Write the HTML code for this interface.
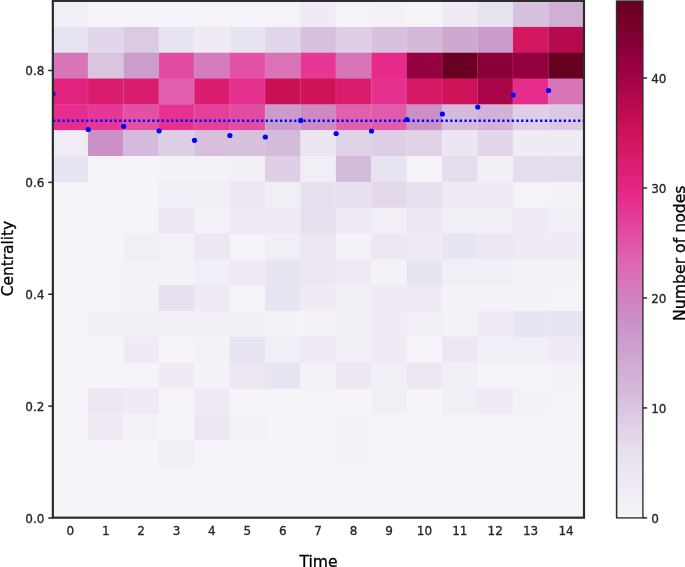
<!DOCTYPE html>
<html><head><meta charset="utf-8"><title>Centrality over time</title><style>html,body{margin:0;padding:0;background:#fff}svg{display:block}</style></head><body>
<svg width="685" height="567" viewBox="0 0 685 567" font-family="'DejaVu Sans', 'Liberation Sans', sans-serif">
<rect width="685" height="567" fill="#fff"/>
<defs><linearGradient id="cb" x1="0" y1="1" x2="0" y2="0"><stop offset="0.0000" stop-color="#f7f4f9"/><stop offset="0.0156" stop-color="#f5f2f8"/><stop offset="0.0312" stop-color="#f3eff6"/><stop offset="0.0469" stop-color="#f1edf5"/><stop offset="0.0625" stop-color="#efeaf4"/><stop offset="0.0781" stop-color="#ede8f3"/><stop offset="0.0938" stop-color="#ebe6f1"/><stop offset="0.1094" stop-color="#e9e3f0"/><stop offset="0.1250" stop-color="#e7e1ef"/><stop offset="0.1406" stop-color="#e5dcec"/><stop offset="0.1562" stop-color="#e2d7ea"/><stop offset="0.1719" stop-color="#e0d2e7"/><stop offset="0.1875" stop-color="#ddcde4"/><stop offset="0.2031" stop-color="#dbc8e2"/><stop offset="0.2188" stop-color="#d9c3df"/><stop offset="0.2344" stop-color="#d6bedc"/><stop offset="0.2500" stop-color="#d4b9da"/><stop offset="0.2656" stop-color="#d3b4d7"/><stop offset="0.2812" stop-color="#d1afd5"/><stop offset="0.2969" stop-color="#d0abd3"/><stop offset="0.3125" stop-color="#cea6d0"/><stop offset="0.3281" stop-color="#cda1ce"/><stop offset="0.3438" stop-color="#cc9dcc"/><stop offset="0.3594" stop-color="#ca98c9"/><stop offset="0.3750" stop-color="#c993c7"/><stop offset="0.3906" stop-color="#cc8ec4"/><stop offset="0.4062" stop-color="#cf88c1"/><stop offset="0.4219" stop-color="#d282be"/><stop offset="0.4375" stop-color="#d47cbb"/><stop offset="0.4531" stop-color="#d776b8"/><stop offset="0.4688" stop-color="#da70b5"/><stop offset="0.4844" stop-color="#dd6ab3"/><stop offset="0.5000" stop-color="#df64af"/><stop offset="0.5156" stop-color="#e05dab"/><stop offset="0.5312" stop-color="#e155a6"/><stop offset="0.5469" stop-color="#e24da1"/><stop offset="0.5625" stop-color="#e3469c"/><stop offset="0.5781" stop-color="#e43e98"/><stop offset="0.5938" stop-color="#e53793"/><stop offset="0.6094" stop-color="#e62f8e"/><stop offset="0.6250" stop-color="#e72989"/><stop offset="0.6406" stop-color="#e32682"/><stop offset="0.6562" stop-color="#e0237c"/><stop offset="0.6719" stop-color="#dd2075"/><stop offset="0.6875" stop-color="#da1d6f"/><stop offset="0.7031" stop-color="#d71a68"/><stop offset="0.7188" stop-color="#d41762"/><stop offset="0.7344" stop-color="#d1145b"/><stop offset="0.7500" stop-color="#cd1256"/><stop offset="0.7656" stop-color="#c60f53"/><stop offset="0.7812" stop-color="#bf0d51"/><stop offset="0.7969" stop-color="#b80b4e"/><stop offset="0.8125" stop-color="#b2094c"/><stop offset="0.8281" stop-color="#ab064a"/><stop offset="0.8438" stop-color="#a40447"/><stop offset="0.8594" stop-color="#9d0245"/><stop offset="0.8750" stop-color="#970042"/><stop offset="0.8906" stop-color="#91003d"/><stop offset="0.9062" stop-color="#8a0039"/><stop offset="0.9219" stop-color="#840034"/><stop offset="0.9375" stop-color="#7e0030"/><stop offset="0.9531" stop-color="#78002b"/><stop offset="0.9688" stop-color="#720027"/><stop offset="0.9844" stop-color="#6c0022"/><stop offset="1.0000" stop-color="#67001f"/></linearGradient><clipPath id="ax"><rect x="52.55" y="1.10" width="531.15" height="516.40"/></clipPath></defs>
<g>
<rect x="52.55" y="1.10" width="531.15" height="516.40" fill="#f7f4f9"/>
<rect x="52.55" y="1.10" width="35.81" height="26.22" fill="#f2eef6"/>
<rect x="87.96" y="1.10" width="35.81" height="26.22" fill="#f6f3f9"/>
<rect x="123.37" y="1.10" width="35.81" height="26.22" fill="#f6f3f9"/>
<rect x="158.78" y="1.10" width="35.81" height="26.22" fill="#f6f3f9"/>
<rect x="194.19" y="1.10" width="35.81" height="26.22" fill="#f5f2f8"/>
<rect x="229.60" y="1.10" width="35.81" height="26.22" fill="#f6f3f8"/>
<rect x="265.01" y="1.10" width="35.81" height="26.22" fill="#f6f3f8"/>
<rect x="300.42" y="1.10" width="35.81" height="26.22" fill="#efeaf4"/>
<rect x="335.83" y="1.10" width="35.81" height="26.22" fill="#f6f3f8"/>
<rect x="371.24" y="1.10" width="35.81" height="26.22" fill="#f4f1f7"/>
<rect x="406.65" y="1.10" width="35.81" height="26.22" fill="#f6f3f9"/>
<rect x="442.06" y="1.10" width="35.81" height="26.22" fill="#efeaf4"/>
<rect x="477.47" y="1.10" width="35.81" height="26.22" fill="#e8e3f0"/>
<rect x="512.88" y="1.10" width="35.81" height="26.22" fill="#d8c1de"/>
<rect x="548.29" y="1.10" width="35.81" height="26.22" fill="#d1aed4"/>
<rect x="52.55" y="26.92" width="35.81" height="26.22" fill="#e8e3f0"/>
<rect x="87.96" y="26.92" width="35.81" height="26.22" fill="#e2d7ea"/>
<rect x="123.37" y="26.92" width="35.81" height="26.22" fill="#dcc9e2"/>
<rect x="158.78" y="26.92" width="35.81" height="26.22" fill="#e8e3f0"/>
<rect x="194.19" y="26.92" width="35.81" height="26.22" fill="#efeaf4"/>
<rect x="229.60" y="26.92" width="35.81" height="26.22" fill="#e9e4f1"/>
<rect x="265.01" y="26.92" width="35.81" height="26.22" fill="#e2d7ea"/>
<rect x="300.42" y="26.92" width="35.81" height="26.22" fill="#d7bfdd"/>
<rect x="335.83" y="26.92" width="35.81" height="26.22" fill="#dfcfe6"/>
<rect x="371.24" y="26.92" width="35.81" height="26.22" fill="#d8c1de"/>
<rect x="406.65" y="26.92" width="35.81" height="26.22" fill="#d4b8d9"/>
<rect x="442.06" y="26.92" width="35.81" height="26.22" fill="#cfa8d2"/>
<rect x="477.47" y="26.92" width="35.81" height="26.22" fill="#cb9ccb"/>
<rect x="512.88" y="26.92" width="35.81" height="26.22" fill="#d31760"/>
<rect x="548.29" y="26.92" width="35.81" height="26.22" fill="#b50a4d"/>
<rect x="52.55" y="52.74" width="35.81" height="26.22" fill="#d874b8"/>
<rect x="87.96" y="52.74" width="35.81" height="26.22" fill="#dac5e0"/>
<rect x="123.37" y="52.74" width="35.81" height="26.22" fill="#cc9ecc"/>
<rect x="158.78" y="52.74" width="35.81" height="26.22" fill="#e24ca0"/>
<rect x="194.19" y="52.74" width="35.81" height="26.22" fill="#d47dbc"/>
<rect x="229.60" y="52.74" width="35.81" height="26.22" fill="#e251a3"/>
<rect x="265.01" y="52.74" width="35.81" height="26.22" fill="#d972b6"/>
<rect x="300.42" y="52.74" width="35.81" height="26.22" fill="#e53793"/>
<rect x="335.83" y="52.74" width="35.81" height="26.22" fill="#d874b8"/>
<rect x="371.24" y="52.74" width="35.81" height="26.22" fill="#e72989"/>
<rect x="406.65" y="52.74" width="35.81" height="26.22" fill="#940040"/>
<rect x="442.06" y="52.74" width="35.81" height="26.22" fill="#6a0021"/>
<rect x="477.47" y="52.74" width="35.81" height="26.22" fill="#8c003a"/>
<rect x="512.88" y="52.74" width="35.81" height="26.22" fill="#92003f"/>
<rect x="548.29" y="52.74" width="35.81" height="26.22" fill="#67001f"/>
<rect x="52.55" y="78.56" width="35.81" height="26.22" fill="#e0237c"/>
<rect x="87.96" y="78.56" width="35.81" height="26.22" fill="#d91c6d"/>
<rect x="123.37" y="78.56" width="35.81" height="26.22" fill="#d91c6d"/>
<rect x="158.78" y="78.56" width="35.81" height="26.22" fill="#e060ad"/>
<rect x="194.19" y="78.56" width="35.81" height="26.22" fill="#d91c6d"/>
<rect x="229.60" y="78.56" width="35.81" height="26.22" fill="#e6318f"/>
<rect x="265.01" y="78.56" width="35.81" height="26.22" fill="#cb1155"/>
<rect x="300.42" y="78.56" width="35.81" height="26.22" fill="#cf1358"/>
<rect x="335.83" y="78.56" width="35.81" height="26.22" fill="#d81b6a"/>
<rect x="371.24" y="78.56" width="35.81" height="26.22" fill="#e6318f"/>
<rect x="406.65" y="78.56" width="35.81" height="26.22" fill="#d51965"/>
<rect x="442.06" y="78.56" width="35.81" height="26.22" fill="#cf1358"/>
<rect x="477.47" y="78.56" width="35.81" height="26.22" fill="#ab064a"/>
<rect x="512.88" y="78.56" width="35.81" height="26.22" fill="#e62d8d"/>
<rect x="548.29" y="78.56" width="35.81" height="26.22" fill="#d874b8"/>
<rect x="52.55" y="104.38" width="35.81" height="26.22" fill="#e62d8d"/>
<rect x="87.96" y="104.38" width="35.81" height="26.22" fill="#e53793"/>
<rect x="123.37" y="104.38" width="35.81" height="26.22" fill="#e251a3"/>
<rect x="158.78" y="104.38" width="35.81" height="26.22" fill="#e6318f"/>
<rect x="194.19" y="104.38" width="35.81" height="26.22" fill="#e44099"/>
<rect x="229.60" y="104.38" width="35.81" height="26.22" fill="#e24ca0"/>
<rect x="265.01" y="104.38" width="35.81" height="26.22" fill="#cb9ccb"/>
<rect x="300.42" y="104.38" width="35.81" height="26.22" fill="#ce89c2"/>
<rect x="335.83" y="104.38" width="35.81" height="26.22" fill="#e060ad"/>
<rect x="371.24" y="104.38" width="35.81" height="26.22" fill="#e05ba9"/>
<rect x="406.65" y="104.38" width="35.81" height="26.22" fill="#cb90c5"/>
<rect x="442.06" y="104.38" width="35.81" height="26.22" fill="#d5bbdb"/>
<rect x="477.47" y="104.38" width="35.81" height="26.22" fill="#d2b2d6"/>
<rect x="512.88" y="104.38" width="35.81" height="26.22" fill="#dfcfe6"/>
<rect x="548.29" y="104.38" width="35.81" height="26.22" fill="#dbc8e2"/>
<rect x="52.55" y="130.20" width="35.81" height="26.22" fill="#f0ecf5"/>
<rect x="87.96" y="130.20" width="35.81" height="26.22" fill="#cb90c5"/>
<rect x="123.37" y="130.20" width="35.81" height="26.22" fill="#d5bbdb"/>
<rect x="158.78" y="130.20" width="35.81" height="26.22" fill="#dfcfe6"/>
<rect x="194.19" y="130.20" width="35.81" height="26.22" fill="#d7bfdd"/>
<rect x="229.60" y="130.20" width="35.81" height="26.22" fill="#d8c1de"/>
<rect x="265.01" y="130.20" width="35.81" height="26.22" fill="#d5bbdb"/>
<rect x="300.42" y="130.20" width="35.81" height="26.22" fill="#ebe6f1"/>
<rect x="335.83" y="130.20" width="35.81" height="26.22" fill="#e0d3e8"/>
<rect x="371.24" y="130.20" width="35.81" height="26.22" fill="#dfcfe6"/>
<rect x="406.65" y="130.20" width="35.81" height="26.22" fill="#e0d3e8"/>
<rect x="442.06" y="130.20" width="35.81" height="26.22" fill="#ebe6f1"/>
<rect x="477.47" y="130.20" width="35.81" height="26.22" fill="#e2d7ea"/>
<rect x="512.88" y="130.20" width="35.81" height="26.22" fill="#efeaf4"/>
<rect x="548.29" y="130.20" width="35.81" height="26.22" fill="#efeaf4"/>
<rect x="52.55" y="156.02" width="35.81" height="26.22" fill="#e9e4f1"/>
<rect x="87.96" y="156.02" width="35.81" height="26.22" fill="#f6f3f8"/>
<rect x="123.37" y="156.02" width="35.81" height="26.22" fill="#f6f3f8"/>
<rect x="158.78" y="156.02" width="35.81" height="26.22" fill="#f4f1f7"/>
<rect x="194.19" y="156.02" width="35.81" height="26.22" fill="#f4f1f7"/>
<rect x="229.60" y="156.02" width="35.81" height="26.22" fill="#f3eff6"/>
<rect x="265.01" y="156.02" width="35.81" height="26.22" fill="#dfcfe6"/>
<rect x="300.42" y="156.02" width="35.81" height="26.22" fill="#f2eef6"/>
<rect x="335.83" y="156.02" width="35.81" height="26.22" fill="#d5bbdb"/>
<rect x="371.24" y="156.02" width="35.81" height="26.22" fill="#e9e4f1"/>
<rect x="406.65" y="156.02" width="35.81" height="26.22" fill="#f6f3f8"/>
<rect x="442.06" y="156.02" width="35.81" height="26.22" fill="#e5dded"/>
<rect x="477.47" y="156.02" width="35.81" height="26.22" fill="#f3eff6"/>
<rect x="512.88" y="156.02" width="35.81" height="26.22" fill="#e5dded"/>
<rect x="548.29" y="156.02" width="35.81" height="26.22" fill="#e5dded"/>
<rect x="158.78" y="181.84" width="35.81" height="26.22" fill="#f2eef6"/>
<rect x="194.19" y="181.84" width="35.81" height="26.22" fill="#f2eef6"/>
<rect x="229.60" y="181.84" width="35.81" height="26.22" fill="#ece7f2"/>
<rect x="265.01" y="181.84" width="35.81" height="26.22" fill="#f2eef6"/>
<rect x="300.42" y="181.84" width="35.81" height="26.22" fill="#e7e1ef"/>
<rect x="335.83" y="181.84" width="35.81" height="26.22" fill="#e7e1ef"/>
<rect x="371.24" y="181.84" width="35.81" height="26.22" fill="#e3d9eb"/>
<rect x="406.65" y="181.84" width="35.81" height="26.22" fill="#e7e1ef"/>
<rect x="442.06" y="181.84" width="35.81" height="26.22" fill="#efeaf4"/>
<rect x="477.47" y="181.84" width="35.81" height="26.22" fill="#efeaf4"/>
<rect x="548.29" y="181.84" width="35.81" height="26.22" fill="#f4f1f7"/>
<rect x="158.78" y="207.66" width="35.81" height="26.22" fill="#ece7f2"/>
<rect x="194.19" y="207.66" width="35.81" height="26.22" fill="#f4f1f7"/>
<rect x="229.60" y="207.66" width="35.81" height="26.22" fill="#efeaf4"/>
<rect x="265.01" y="207.66" width="35.81" height="26.22" fill="#efeaf4"/>
<rect x="300.42" y="207.66" width="35.81" height="26.22" fill="#e7e1ef"/>
<rect x="335.83" y="207.66" width="35.81" height="26.22" fill="#efeaf4"/>
<rect x="371.24" y="207.66" width="35.81" height="26.22" fill="#f2eef6"/>
<rect x="406.65" y="207.66" width="35.81" height="26.22" fill="#ece7f2"/>
<rect x="442.06" y="207.66" width="35.81" height="26.22" fill="#f2eef6"/>
<rect x="477.47" y="207.66" width="35.81" height="26.22" fill="#f2eef6"/>
<rect x="512.88" y="207.66" width="35.81" height="26.22" fill="#efeaf4"/>
<rect x="548.29" y="207.66" width="35.81" height="26.22" fill="#f2eef6"/>
<rect x="123.37" y="233.48" width="35.81" height="26.22" fill="#f2eef6"/>
<rect x="158.78" y="233.48" width="35.81" height="26.22" fill="#f4f1f7"/>
<rect x="194.19" y="233.48" width="35.81" height="26.22" fill="#ece7f2"/>
<rect x="265.01" y="233.48" width="35.81" height="26.22" fill="#f2eef6"/>
<rect x="300.42" y="233.48" width="35.81" height="26.22" fill="#ece7f2"/>
<rect x="335.83" y="233.48" width="35.81" height="26.22" fill="#f4f1f7"/>
<rect x="371.24" y="233.48" width="35.81" height="26.22" fill="#ece7f2"/>
<rect x="406.65" y="233.48" width="35.81" height="26.22" fill="#efeaf4"/>
<rect x="442.06" y="233.48" width="35.81" height="26.22" fill="#e9e4f1"/>
<rect x="477.47" y="233.48" width="35.81" height="26.22" fill="#ece7f2"/>
<rect x="512.88" y="233.48" width="35.81" height="26.22" fill="#efeaf4"/>
<rect x="548.29" y="233.48" width="35.81" height="26.22" fill="#efeaf4"/>
<rect x="123.37" y="259.30" width="35.81" height="26.22" fill="#f4f1f7"/>
<rect x="158.78" y="259.30" width="35.81" height="26.22" fill="#f4f1f7"/>
<rect x="194.19" y="259.30" width="35.81" height="26.22" fill="#f2eef6"/>
<rect x="229.60" y="259.30" width="35.81" height="26.22" fill="#efeaf4"/>
<rect x="265.01" y="259.30" width="35.81" height="26.22" fill="#e9e4f1"/>
<rect x="300.42" y="259.30" width="35.81" height="26.22" fill="#ece7f2"/>
<rect x="335.83" y="259.30" width="35.81" height="26.22" fill="#efeaf4"/>
<rect x="371.24" y="259.30" width="35.81" height="26.22" fill="#f4f1f7"/>
<rect x="406.65" y="259.30" width="35.81" height="26.22" fill="#e9e4f1"/>
<rect x="442.06" y="259.30" width="35.81" height="26.22" fill="#f2eef6"/>
<rect x="477.47" y="259.30" width="35.81" height="26.22" fill="#f2eef6"/>
<rect x="512.88" y="259.30" width="35.81" height="26.22" fill="#f4f1f7"/>
<rect x="548.29" y="259.30" width="35.81" height="26.22" fill="#f4f1f7"/>
<rect x="123.37" y="285.12" width="35.81" height="26.22" fill="#f4f1f7"/>
<rect x="158.78" y="285.12" width="35.81" height="26.22" fill="#e7e1ef"/>
<rect x="194.19" y="285.12" width="35.81" height="26.22" fill="#efeaf4"/>
<rect x="265.01" y="285.12" width="35.81" height="26.22" fill="#e9e4f1"/>
<rect x="300.42" y="285.12" width="35.81" height="26.22" fill="#efeaf4"/>
<rect x="335.83" y="285.12" width="35.81" height="26.22" fill="#f2eef6"/>
<rect x="371.24" y="285.12" width="35.81" height="26.22" fill="#efeaf4"/>
<rect x="406.65" y="285.12" width="35.81" height="26.22" fill="#efeaf4"/>
<rect x="442.06" y="285.12" width="35.81" height="26.22" fill="#f4f1f7"/>
<rect x="477.47" y="285.12" width="35.81" height="26.22" fill="#f4f1f7"/>
<rect x="512.88" y="285.12" width="35.81" height="26.22" fill="#f4f1f7"/>
<rect x="87.96" y="310.94" width="35.81" height="26.22" fill="#f2eef6"/>
<rect x="123.37" y="310.94" width="35.81" height="26.22" fill="#f2eef6"/>
<rect x="158.78" y="310.94" width="35.81" height="26.22" fill="#f2eef6"/>
<rect x="194.19" y="310.94" width="35.81" height="26.22" fill="#f2eef6"/>
<rect x="229.60" y="310.94" width="35.81" height="26.22" fill="#f2eef6"/>
<rect x="265.01" y="310.94" width="35.81" height="26.22" fill="#f4f1f7"/>
<rect x="300.42" y="310.94" width="35.81" height="26.22" fill="#f4f1f7"/>
<rect x="335.83" y="310.94" width="35.81" height="26.22" fill="#f2eef6"/>
<rect x="371.24" y="310.94" width="35.81" height="26.22" fill="#efeaf4"/>
<rect x="406.65" y="310.94" width="35.81" height="26.22" fill="#f2eef6"/>
<rect x="442.06" y="310.94" width="35.81" height="26.22" fill="#f4f1f7"/>
<rect x="477.47" y="310.94" width="35.81" height="26.22" fill="#efeaf4"/>
<rect x="512.88" y="310.94" width="35.81" height="26.22" fill="#e9e4f1"/>
<rect x="548.29" y="310.94" width="35.81" height="26.22" fill="#e9e4f1"/>
<rect x="123.37" y="336.76" width="35.81" height="26.22" fill="#efeaf4"/>
<rect x="194.19" y="336.76" width="35.81" height="26.22" fill="#f4f1f7"/>
<rect x="229.60" y="336.76" width="35.81" height="26.22" fill="#e9e4f1"/>
<rect x="265.01" y="336.76" width="35.81" height="26.22" fill="#f2eef6"/>
<rect x="300.42" y="336.76" width="35.81" height="26.22" fill="#efeaf4"/>
<rect x="335.83" y="336.76" width="35.81" height="26.22" fill="#f2eef6"/>
<rect x="371.24" y="336.76" width="35.81" height="26.22" fill="#efeaf4"/>
<rect x="442.06" y="336.76" width="35.81" height="26.22" fill="#ece7f2"/>
<rect x="477.47" y="336.76" width="35.81" height="26.22" fill="#f2eef6"/>
<rect x="512.88" y="336.76" width="35.81" height="26.22" fill="#f2eef6"/>
<rect x="548.29" y="336.76" width="35.81" height="26.22" fill="#efeaf4"/>
<rect x="158.78" y="362.58" width="35.81" height="26.22" fill="#efeaf4"/>
<rect x="194.19" y="362.58" width="35.81" height="26.22" fill="#f4f1f7"/>
<rect x="229.60" y="362.58" width="35.81" height="26.22" fill="#ece7f2"/>
<rect x="265.01" y="362.58" width="35.81" height="26.22" fill="#e9e4f1"/>
<rect x="300.42" y="362.58" width="35.81" height="26.22" fill="#f4f1f7"/>
<rect x="335.83" y="362.58" width="35.81" height="26.22" fill="#ece7f2"/>
<rect x="371.24" y="362.58" width="35.81" height="26.22" fill="#f2eef6"/>
<rect x="406.65" y="362.58" width="35.81" height="26.22" fill="#ece7f2"/>
<rect x="442.06" y="362.58" width="35.81" height="26.22" fill="#f2eef6"/>
<rect x="548.29" y="362.58" width="35.81" height="26.22" fill="#f4f1f7"/>
<rect x="87.96" y="388.40" width="35.81" height="26.22" fill="#ece7f2"/>
<rect x="123.37" y="388.40" width="35.81" height="26.22" fill="#efeaf4"/>
<rect x="194.19" y="388.40" width="35.81" height="26.22" fill="#efeaf4"/>
<rect x="371.24" y="388.40" width="35.81" height="26.22" fill="#f2eef6"/>
<rect x="442.06" y="388.40" width="35.81" height="26.22" fill="#f2eef6"/>
<rect x="477.47" y="388.40" width="35.81" height="26.22" fill="#efeaf4"/>
<rect x="512.88" y="388.40" width="35.81" height="26.22" fill="#f4f1f7"/>
<rect x="87.96" y="414.22" width="35.81" height="26.22" fill="#efeaf4"/>
<rect x="123.37" y="414.22" width="35.81" height="26.22" fill="#f4f1f7"/>
<rect x="194.19" y="414.22" width="35.81" height="26.22" fill="#ece7f2"/>
<rect x="229.60" y="414.22" width="35.81" height="26.22" fill="#f4f1f7"/>
<rect x="335.83" y="414.22" width="35.81" height="26.22" fill="#f4f1f7"/>
<rect x="158.78" y="440.04" width="35.81" height="26.22" fill="#f2eef6"/>
<rect x="335.83" y="440.04" width="35.81" height="26.22" fill="#f4f1f7"/>
<line x1="87.96" y1="1.10" x2="87.96" y2="517.50" stroke="#fff" stroke-opacity="0.16" stroke-width="0.7"/>
<line x1="123.37" y1="1.10" x2="123.37" y2="517.50" stroke="#fff" stroke-opacity="0.16" stroke-width="0.7"/>
<line x1="158.78" y1="1.10" x2="158.78" y2="517.50" stroke="#fff" stroke-opacity="0.16" stroke-width="0.7"/>
<line x1="194.19" y1="1.10" x2="194.19" y2="517.50" stroke="#fff" stroke-opacity="0.16" stroke-width="0.7"/>
<line x1="229.60" y1="1.10" x2="229.60" y2="517.50" stroke="#fff" stroke-opacity="0.16" stroke-width="0.7"/>
<line x1="265.01" y1="1.10" x2="265.01" y2="517.50" stroke="#fff" stroke-opacity="0.16" stroke-width="0.7"/>
<line x1="300.42" y1="1.10" x2="300.42" y2="517.50" stroke="#fff" stroke-opacity="0.16" stroke-width="0.7"/>
<line x1="335.83" y1="1.10" x2="335.83" y2="517.50" stroke="#fff" stroke-opacity="0.16" stroke-width="0.7"/>
<line x1="371.24" y1="1.10" x2="371.24" y2="517.50" stroke="#fff" stroke-opacity="0.16" stroke-width="0.7"/>
<line x1="406.65" y1="1.10" x2="406.65" y2="517.50" stroke="#fff" stroke-opacity="0.16" stroke-width="0.7"/>
<line x1="442.06" y1="1.10" x2="442.06" y2="517.50" stroke="#fff" stroke-opacity="0.16" stroke-width="0.7"/>
<line x1="477.47" y1="1.10" x2="477.47" y2="517.50" stroke="#fff" stroke-opacity="0.16" stroke-width="0.7"/>
<line x1="512.88" y1="1.10" x2="512.88" y2="517.50" stroke="#fff" stroke-opacity="0.16" stroke-width="0.7"/>
<line x1="548.29" y1="1.10" x2="548.29" y2="517.50" stroke="#fff" stroke-opacity="0.16" stroke-width="0.7"/>
</g>
<g clip-path="url(#ax)"><line x1="52.55" y1="120.7" x2="583.70" y2="120.7" stroke="#0000ff" stroke-width="2.4" stroke-dasharray="2.3 2.43" stroke-dashoffset="-0.35"/>
<circle cx="52.85" cy="93.8" r="2.6" fill="#0000ff"/>
<circle cx="88.26" cy="129.5" r="2.6" fill="#0000ff"/>
<circle cx="123.67" cy="126.3" r="2.6" fill="#0000ff"/>
<circle cx="159.08" cy="130.8" r="2.6" fill="#0000ff"/>
<circle cx="194.49" cy="140.3" r="2.6" fill="#0000ff"/>
<circle cx="229.90" cy="135.5" r="2.6" fill="#0000ff"/>
<circle cx="265.31" cy="137.0" r="2.6" fill="#0000ff"/>
<circle cx="300.72" cy="120.4" r="2.6" fill="#0000ff"/>
<circle cx="336.13" cy="133.5" r="2.6" fill="#0000ff"/>
<circle cx="371.54" cy="131" r="2.6" fill="#0000ff"/>
<circle cx="406.95" cy="119.5" r="2.6" fill="#0000ff"/>
<circle cx="442.36" cy="114" r="2.6" fill="#0000ff"/>
<circle cx="477.77" cy="107" r="2.6" fill="#0000ff"/>
<circle cx="513.18" cy="95" r="2.6" fill="#0000ff"/>
<circle cx="548.59" cy="90.5" r="2.6" fill="#0000ff"/>
</g>
<rect x="52.85" y="0.85" width="531.15" height="516.85" fill="none" stroke="#2b2b2b" stroke-width="2.2"/>
<line x1="48.20" y1="518.00" x2="52.50" y2="518.00" stroke="#2b2b2b" stroke-width="1.5"/>
<text x="44.40" y="522.60" font-size="12" text-anchor="end" fill="#262626" stroke="#262626" stroke-width="0.3">0.0</text>
<line x1="48.20" y1="406.12" x2="52.50" y2="406.12" stroke="#2b2b2b" stroke-width="1.5"/>
<text x="44.40" y="410.72" font-size="12" text-anchor="end" fill="#262626" stroke="#262626" stroke-width="0.3">0.2</text>
<line x1="48.20" y1="294.24" x2="52.50" y2="294.24" stroke="#2b2b2b" stroke-width="1.5"/>
<text x="44.40" y="298.84" font-size="12" text-anchor="end" fill="#262626" stroke="#262626" stroke-width="0.3">0.4</text>
<line x1="48.20" y1="182.36" x2="52.50" y2="182.36" stroke="#2b2b2b" stroke-width="1.5"/>
<text x="44.40" y="186.96" font-size="12" text-anchor="end" fill="#262626" stroke="#262626" stroke-width="0.3">0.6</text>
<line x1="48.20" y1="70.48" x2="52.50" y2="70.48" stroke="#2b2b2b" stroke-width="1.5"/>
<text x="44.40" y="75.08" font-size="12" text-anchor="end" fill="#262626" stroke="#262626" stroke-width="0.3">0.8</text>
<text x="70.30" y="535.2" font-size="12" text-anchor="middle" fill="#262626" stroke="#262626" stroke-width="0.3">0</text>
<text x="105.71" y="535.2" font-size="12" text-anchor="middle" fill="#262626" stroke="#262626" stroke-width="0.3">1</text>
<text x="141.12" y="535.2" font-size="12" text-anchor="middle" fill="#262626" stroke="#262626" stroke-width="0.3">2</text>
<text x="176.53" y="535.2" font-size="12" text-anchor="middle" fill="#262626" stroke="#262626" stroke-width="0.3">3</text>
<text x="211.94" y="535.2" font-size="12" text-anchor="middle" fill="#262626" stroke="#262626" stroke-width="0.3">4</text>
<text x="247.36" y="535.2" font-size="12" text-anchor="middle" fill="#262626" stroke="#262626" stroke-width="0.3">5</text>
<text x="282.76" y="535.2" font-size="12" text-anchor="middle" fill="#262626" stroke="#262626" stroke-width="0.3">6</text>
<text x="318.18" y="535.2" font-size="12" text-anchor="middle" fill="#262626" stroke="#262626" stroke-width="0.3">7</text>
<text x="353.58" y="535.2" font-size="12" text-anchor="middle" fill="#262626" stroke="#262626" stroke-width="0.3">8</text>
<text x="389.00" y="535.2" font-size="12" text-anchor="middle" fill="#262626" stroke="#262626" stroke-width="0.3">9</text>
<text x="424.40" y="535.2" font-size="12" text-anchor="middle" fill="#262626" stroke="#262626" stroke-width="0.3">10</text>
<text x="459.81" y="535.2" font-size="12" text-anchor="middle" fill="#262626" stroke="#262626" stroke-width="0.3">11</text>
<text x="495.22" y="535.2" font-size="12" text-anchor="middle" fill="#262626" stroke="#262626" stroke-width="0.3">12</text>
<text x="530.63" y="535.2" font-size="12" text-anchor="middle" fill="#262626" stroke="#262626" stroke-width="0.3">13</text>
<text x="566.04" y="535.2" font-size="12" text-anchor="middle" fill="#262626" stroke="#262626" stroke-width="0.3">14</text>
<text x="318.52" y="567.0" font-size="15.6" text-anchor="middle" fill="#000" stroke="#000" stroke-width="0.3">Time</text>
<text transform="translate(12.8,258.50) rotate(-90)" font-size="15.4" text-anchor="middle" fill="#000" stroke="#000" stroke-width="0.3">Centrality</text>
<rect x="616.7" y="1.00" width="26.20" height="516.90" fill="url(#cb)" stroke="#2b2b2b" stroke-width="1.35"/>
<line x1="616.15" y1="1.00" x2="616.15" y2="517.90" stroke="#2b2b2b" stroke-opacity="0.55" stroke-width="0.9"/>
<line x1="642.90" y1="517.90" x2="647.10" y2="517.90" stroke="#2b2b2b" stroke-width="1.5"/>
<text x="651.20" y="522.60" font-size="12" fill="#262626" stroke="#262626" stroke-width="0.3">0</text>
<line x1="642.90" y1="407.92" x2="647.10" y2="407.92" stroke="#2b2b2b" stroke-width="1.5"/>
<text x="651.20" y="412.62" font-size="12" fill="#262626" stroke="#262626" stroke-width="0.3">10</text>
<line x1="642.90" y1="297.94" x2="647.10" y2="297.94" stroke="#2b2b2b" stroke-width="1.5"/>
<text x="651.20" y="302.64" font-size="12" fill="#262626" stroke="#262626" stroke-width="0.3">20</text>
<line x1="642.90" y1="187.96" x2="647.10" y2="187.96" stroke="#2b2b2b" stroke-width="1.5"/>
<text x="651.20" y="192.66" font-size="12" fill="#262626" stroke="#262626" stroke-width="0.3">30</text>
<line x1="642.90" y1="77.99" x2="647.10" y2="77.99" stroke="#2b2b2b" stroke-width="1.5"/>
<text x="651.20" y="82.69" font-size="12" fill="#262626" stroke="#262626" stroke-width="0.3">40</text>
<text transform="translate(684.9,253.20) rotate(-90)" font-size="15.7" text-anchor="middle" fill="#000" stroke="#000" stroke-width="0.3">Number of nodes</text>
</svg>
</body></html>
